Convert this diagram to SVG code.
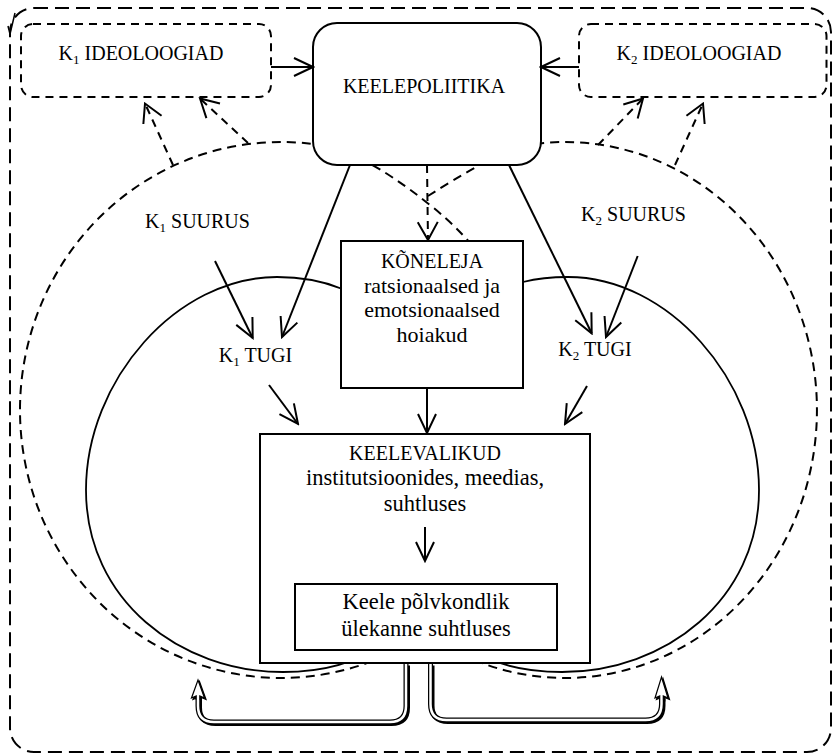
<svg xmlns="http://www.w3.org/2000/svg" width="833" height="754" viewBox="0 0 833 754" font-family="'Liberation Serif', 'DejaVu Serif', serif">
<style>
text{font-family:'Liberation Serif','DejaVu Serif',serif;fill:#000;text-anchor:middle}
.cap{font-size:20px}
.low{font-size:22px}
.low2{font-size:22.5px}
.sub{font-size:13px}
.box{fill:#fff;stroke:#000;stroke-width:2}
.dbox{fill:#fff;stroke:#000;stroke-width:2;stroke-dasharray:8 6}
.frame{fill:none;stroke:#000;stroke-width:2;stroke-dasharray:14 7}
.ring{fill:none;stroke:#000;stroke-width:1.8}
.dring{fill:none;stroke:#000;stroke-width:2;stroke-dasharray:9 6}
.ln{fill:none;stroke:#000;stroke-width:2;marker-end:url(#ah)}
.dln{fill:none;stroke:#000;stroke-width:2;stroke-dasharray:8 6;marker-end:url(#ahd)}
.bandS{fill:none;stroke:#000;stroke-width:5}
.bandW{fill:none;stroke:#fff;stroke-width:2.5}
.head{fill:#fff;stroke:#000;stroke-width:1.2;stroke-linejoin:miter}
.headS{fill:#000;stroke:#000;stroke-width:1.2}
</style>
<defs>
<marker id="ah" viewBox="-22 -12 24 24" refX="0" refY="0" markerWidth="24" markerHeight="24" markerUnits="userSpaceOnUse" orient="auto">
<path d="M-19,-9 L0,0 L-19,9" fill="none" stroke="#000" stroke-width="2"/>
</marker>
<marker id="ahd" viewBox="-22 -12 24 24" refX="0" refY="0" markerWidth="24" markerHeight="24" markerUnits="userSpaceOnUse" orient="auto">
<path d="M-18,-10 L0,0 L-18,10" fill="none" stroke="#000" stroke-width="2"/>
</marker>
</defs>
<rect width="833" height="754" fill="#fff"/>

<g id="frame">
<rect class="frame" x="10" y="8" width="821" height="744" rx="24"/>
<path d="M15,13 L10,34 M8,26 L10,34" fill="none" stroke="#000" stroke-width="1.5"/>
</g>

<g id="regions">
<path id="k1-suurus-ring" class="dring" d="M400,648.5 A261,268 0 1 1 313,144 C345,148 380,165 430,205 S500,280 505,320"/>
<path id="k2-suurus-ring" class="dring" d="M428,196 C460,176 500,150 535,143.9 A252,268 0 1 1 448,647.4"/>
<path id="k1-tugi-ring" class="ring" d="M341,288.5 C320,280 300,277 277,277 C177,277 86,380 86,490 C86,600 180,672 283,672 C330,672 360,660 380,645"/>
<path id="k2-tugi-ring" class="ring" d="M523,282 C535,279 550,277 568,277 C668,277 759,380 759,490 C759,600 665,672 562,672 C515,672 485,660 465,645"/>
</g>

<g id="k1-ideoloogiad">
<rect class="dbox" x="21" y="24" width="250" height="73" rx="12"/>
<text class="cap" x="141" y="60">K<tspan class="sub" dy="4">1</tspan><tspan dy="-4"> IDEOLOOGIAD</tspan></text>
</g>
<g id="k2-ideoloogiad">
<rect class="dbox" x="579" y="24" width="247.5" height="73" rx="12"/>
<text class="cap" x="699" y="60">K<tspan class="sub" dy="4">2</tspan><tspan dy="-4"> IDEOLOOGIAD</tspan></text>
</g>
<g id="keelepoliitika">
<rect class="box" x="313" y="23" width="228" height="142" rx="24"/>
<text class="cap" x="424" y="93">KEELEPOLIITIKA</text>
</g>
<g id="k1-suurus">
<text class="cap" x="197.5" y="228">K<tspan class="sub" dy="4">1</tspan><tspan dy="-4"> SUURUS</tspan></text>
</g>
<g id="k2-suurus">
<text class="cap" x="633.5" y="221">K<tspan class="sub" dy="4">2</tspan><tspan dy="-4"> SUURUS</tspan></text>
</g>
<g id="k1-tugi">
<text class="cap" x="255.5" y="362">K<tspan class="sub" dy="4">1</tspan><tspan dy="-4"> TUGI</tspan></text>
</g>
<g id="k2-tugi">
<text class="cap" x="595" y="356">K<tspan class="sub" dy="4">2</tspan><tspan dy="-4"> TUGI</tspan></text>
</g>
<g id="koneleja">
<rect class="box" x="341" y="241" width="182" height="147"/>
<text class="cap" x="432" y="268">KÕNELEJA</text>
<text class="low" x="432" y="292.5">ratsionaalsed ja</text>
<text class="low" x="432" y="317">emotsionaalsed</text>
<text class="low" x="432" y="341.5">hoiakud</text>
</g>
<g id="keelevalikud">
<rect class="box" x="260" y="434" width="330" height="229"/>
<text class="cap" x="425" y="460">KEELEVALIKUD</text>
<text class="low2" x="425" y="485">institutsioonides, meedias,</text>
<text class="low2" x="425" y="510.5">suhtluses</text>
</g>
<g id="ulekanne">
<rect class="box" x="295" y="584" width="262" height="66"/>
<text class="low2" x="426" y="609">Keele põlvkondlik</text>
<text class="low2" x="426" y="636">ülekanne suhtluses</text>
</g>

<g id="connectors">
<path class="ln" d="M271,67 L313,67"/>
<path class="ln" d="M579,67 L541,67"/>
<path class="ln" d="M350,165 L282,337"/>
<path class="ln" d="M215,261 L252.7,338"/>
<path class="ln" d="M509,165 L591.7,333.3"/>
<path class="ln" d="M637.7,256 L606,337"/>
<path class="ln" d="M269,385 L298,424"/>
<path class="ln" d="M427,388 L427,433"/>
<path class="ln" d="M587,386 L565,424"/>
<path class="ln" d="M425,527 L425,561"/>
<path class="dln" d="M173,165 L145,103.5"/>
<path class="dln" d="M248,143 L200,98.5"/>
<path class="dln" d="M598,145 L643,98.5"/>
<path class="dln" d="M675,165 L703,103.5"/>
<path class="dln" d="M427,165 L428,240"/>
<g id="feedback-left">
<path class="bandS" transform="translate(1.5,1.5)" d="M406,664 L406,706 Q406,722 390,722 L214,722 Q198,722 198,706 L198,697"/>
<path class="headS" transform="translate(1.5,1.5)" d="M196.2,700 L196.2,696 L191.5,698 L198,680 L204.5,698 L199.8,696 L199.8,700"/>
<path class="bandS" d="M406,664 L406,706 Q406,722 390,722 L214,722 Q198,722 198,706 L198,697"/>
<path class="bandW" d="M406,664 L406,706 Q406,722 390,722 L214,722 Q198,722 198,706 L198,697"/>
<path class="head" d="M196.2,700 L196.2,696 L191.5,698 L198,680 L204.5,698 L199.8,696 L199.8,700"/>
</g>
<g id="feedback-right">
<path class="bandS" transform="translate(1.5,1.5)" d="M430.5,664 L430.5,704 Q430.5,720 446.5,720 L645.5,720 Q661.5,720 661.5,704 L661.5,697"/>
<path class="headS" transform="translate(1.5,1.5)" d="M659.7,700 L659.7,696 L655,698 L661.5,677 L668,698 L663.3,696 L663.3,700"/>
<path class="bandS" d="M430.5,664 L430.5,704 Q430.5,720 446.5,720 L645.5,720 Q661.5,720 661.5,704 L661.5,697"/>
<path class="bandW" d="M430.5,664 L430.5,704 Q430.5,720 446.5,720 L645.5,720 Q661.5,720 661.5,704 L661.5,697"/>
<path class="head" d="M659.7,700 L659.7,696 L655,698 L661.5,677 L668,698 L663.3,696 L663.3,700"/>
</g>
</g>
</svg>
